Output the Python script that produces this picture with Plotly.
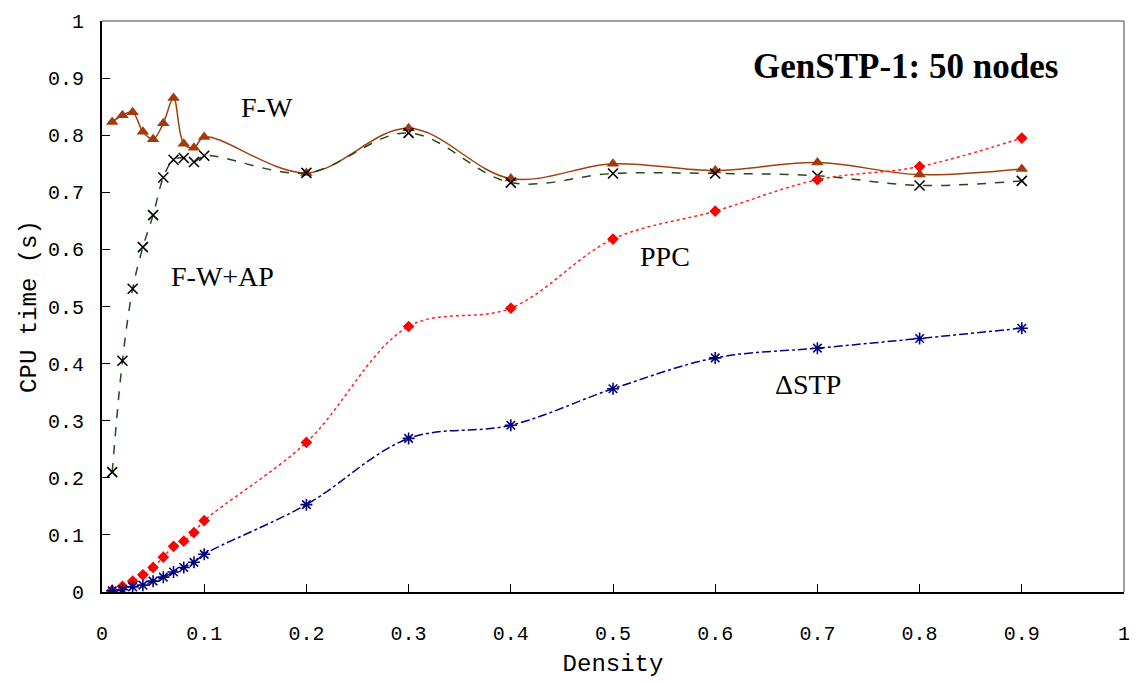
import plotly.graph_objects as go

density = [0.01, 0.02, 0.03, 0.04, 0.05, 0.06, 0.07, 0.08, 0.09, 0.1,
           0.2, 0.3, 0.4, 0.5, 0.6, 0.7, 0.8, 0.9]

fw = [0.823, 0.835, 0.840, 0.806, 0.793, 0.821, 0.865, 0.785, 0.778, 0.797,
      0.734, 0.812, 0.724, 0.750, 0.738, 0.752, 0.731, 0.741]
fw_ap = [0.210, 0.405, 0.531, 0.604, 0.660, 0.726, 0.757, 0.760, 0.753, 0.764,
         0.734, 0.804, 0.717, 0.733, 0.733, 0.729, 0.712, 0.720]
ppc = [0.003, 0.010, 0.019, 0.030, 0.043, 0.061, 0.080, 0.089, 0.104, 0.125,
       0.262, 0.465, 0.497, 0.618, 0.667, 0.722, 0.745, 0.795]
dstp = [0.002, 0.004, 0.009, 0.012, 0.019, 0.026, 0.035, 0.043, 0.052, 0.066,
        0.153, 0.269, 0.292, 0.356, 0.410, 0.427, 0.444, 0.462]

tick_vals = [0, 0.1, 0.2, 0.3, 0.4, 0.5, 0.6, 0.7, 0.8, 0.9, 1]
tick_text = ["0", "0.1", "0.2", "0.3", "0.4", "0.5", "0.6", "0.7", "0.8", "0.9", "1"]

fig = go.Figure()

fig.add_trace(go.Scatter(
    x=density, y=fw, name="F-W", mode="lines+markers",
    line=dict(color="#A0400F", width=1.5, shape="spline", smoothing=1),
    marker=dict(symbol="triangle-up", size=11, color="#A33A0B"),
))
fig.add_trace(go.Scatter(
    x=density, y=fw_ap, name="F-W+AP", mode="lines+markers",
    line=dict(color="#1F4A1F", width=1.5, dash="dash", shape="spline", smoothing=1),
    marker=dict(symbol="x-thin", size=10, color="black", line=dict(color="black", width=1.6)),
))
fig.add_trace(go.Scatter(
    x=density, y=ppc, name="PPC", mode="lines+markers",
    line=dict(color="#FF2020", width=1.5, dash="dot", shape="spline", smoothing=1),
    marker=dict(symbol="diamond", size=9, color="#FF0000"),
))
fig.add_trace(go.Scatter(
    x=density, y=dstp, name="ΔSTP", mode="lines+markers",
    line=dict(color="#000080", width=1.5, dash="dashdot", shape="spline", smoothing=1),
    marker=dict(symbol="asterisk-open", size=10, color="#000080", line=dict(color="#000080", width=1.6)),
))

serif = "Liberation Serif, Times New Roman, serif"
mono = "Liberation Mono, DejaVu Sans Mono, monospace"

annots = [
    dict(x=0.1615, y=0.849, text="F-W"),
    dict(x=0.118, y=0.552, text="F-W+AP"),
    dict(x=0.5506, y=0.587, text="PPC"),
    dict(x=0.691, y=0.363, text="ΔSTP"),
]
for a in annots:
    fig.add_annotation(x=a["x"], y=a["y"], xref="x", yref="y", text=a["text"],
                       showarrow=False, font=dict(family=serif, size=28, color="black"))

fig.add_annotation(x=0.786, y=0.920, xref="x", yref="y", text="<b>GenSTP-1: 50 nodes</b>",
                   showarrow=False, font=dict(family=serif, size=35, color="black"))

# gray top and right border
fig.add_shape(type="line", xref="paper", yref="paper", x0=0, x1=1, y0=1, y1=1,
              line=dict(color="#808080", width=1.5))
fig.add_shape(type="line", xref="paper", yref="paper", x0=1, x1=1, y0=0, y1=1,
              line=dict(color="#808080", width=1.5))

fig.update_layout(
    width=1141, height=683,
    margin=dict(l=102, r=11, t=17, b=90),
    paper_bgcolor="white", plot_bgcolor="white",
    showlegend=False,
    xaxis=dict(range=[0, 1], tickvals=tick_vals, ticktext=tick_text,
               ticks="inside", ticklen=8, tickcolor="black", tickwidth=1,
               ticklabelstandoff=22,
               showgrid=False, zeroline=False, showline=True, linecolor="black", linewidth=2,
               tickfont=dict(family=mono, size=20, color="black"),
               title=dict(text="Density", font=dict(family=mono, size=24, color="black"), standoff=9)),
    yaxis=dict(range=[0, 1], tickvals=tick_vals, ticktext=tick_text,
               ticks="inside", ticklen=8, tickcolor="black", tickwidth=1,
               ticklabelstandoff=12,
               showgrid=False, zeroline=False, showline=True, linecolor="black", linewidth=2,
               tickfont=dict(family=mono, size=20, color="black"),
               title=dict(text="CPU time (s)", font=dict(family=mono, size=24, color="black"), standoff=5)),
)

fig.write_html("out.html")
